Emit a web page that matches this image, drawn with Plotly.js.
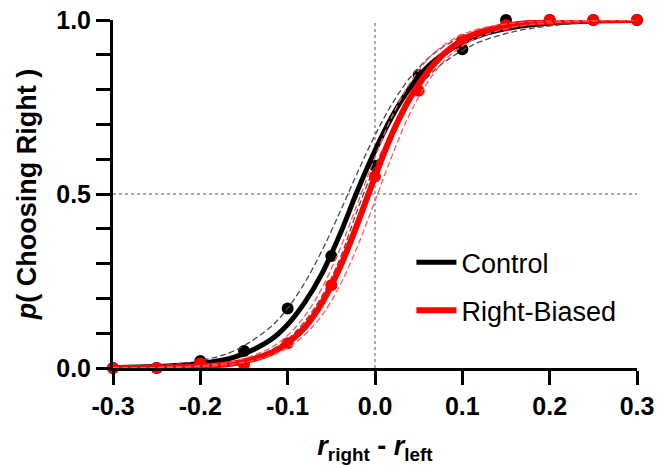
<!DOCTYPE html>
<html>
<head>
<meta charset="utf-8">
<script src="https://cdn.plot.ly/plotly-3.0.1.min.js"></script>
<style>html,body{margin:0;padding:0;background:#fff;}#chart{width:657px;height:465px;}</style>
</head>
<body>
<div id="chart"></div>
<script>
// Observed data points
const xData = [-0.3, -0.25, -0.2, -0.15, -0.1, -0.05, 0.0, 0.05, 0.1, 0.15, 0.2, 0.25, 0.3];
const controlData = [0.0, 0.0, 0.02, 0.049, 0.171, 0.322, 0.581, 0.842, 0.916, 1.0, 1.0, 1.0, 1.0];
const biasedData = [0.0, 0.0, 0.013, 0.011, 0.071, 0.238, 0.55, 0.797, 0.943, 0.985, 1.0, 1.0, 1.0];

// Fitted curves and confidence bands
const xFit = [-0.3, -0.25, -0.2, -0.16, -0.12, -0.1, -0.08, -0.06, -0.04, -0.02, 0.0, 0.02, 0.04, 0.06, 0.08, 0.1, 0.12, 0.16, 0.2, 0.25, 0.3];
const controlFit   = [0.001, 0.004, 0.013, 0.032, 0.08, 0.125, 0.19, 0.275, 0.385, 0.51, 0.625, 0.725, 0.805, 0.865, 0.905, 0.935, 0.956, 0.98, 0.991, 0.997, 0.999];
const controlUpper = [0.002, 0.007, 0.021, 0.051, 0.117, 0.172, 0.247, 0.341, 0.449, 0.562, 0.669, 0.761, 0.834, 0.888, 0.926, 0.952, 0.969, 0.987, 0.995, 0.998, 0.9995];
const controlLower = [0.0003, 0.0012, 0.006, 0.018, 0.05, 0.083, 0.135, 0.21, 0.315, 0.455, 0.58, 0.68, 0.765, 0.835, 0.88, 0.912, 0.937, 0.967, 0.983, 0.993, 0.997];
const biasedFit    = [0.0003, 0.001, 0.005, 0.014, 0.042, 0.072, 0.118, 0.19, 0.29, 0.415, 0.55, 0.675, 0.775, 0.85, 0.905, 0.942, 0.965, 0.987, 0.995, 0.999, 1.0];
const biasedUpper  = [0.0005, 0.0018, 0.0069, 0.02, 0.057, 0.094, 0.151, 0.233, 0.343, 0.473, 0.606, 0.726, 0.819, 0.886, 0.93, 0.958, 0.975, 0.9915, 0.997, 0.9992, 0.9998];
const biasedLower  = [0.0003, 0.0011, 0.0041, 0.012, 0.035, 0.058, 0.096, 0.154, 0.238, 0.35, 0.48, 0.613, 0.731, 0.82, 0.885, 0.925, 0.952, 0.98, 0.992, 0.997, 0.999];

const seriesNames = ['Control', 'Right-Biased'];
const xTickVals = [-0.3, -0.2, -0.1, 0.0, 0.1, 0.2, 0.3];
const xTickText = ['-0.3', '-0.2', '-0.1', '0.0', '0.1', '0.2', '0.3'];
const yTickVals = [0.0, 0.5, 1.0];
const yTickText = ['0.0', '0.5', '1.0'];
const refX = 0.0;
const refY = 0.5;

const FONT = 'Arial, "Liberation Sans", Helvetica, sans-serif';
const BLACK = '#000000';
const RED = '#ff0000';
const BAND_BLACK = '#4a4a4a';
const BAND_RED = '#ff5a5a';

const traces = [
  {x: xFit, y: controlFit, mode: 'lines', line: {color: BLACK, width: 5, shape: 'spline', smoothing: 1}, name: seriesNames[0], legendgroup: 'c', showlegend: true, cliponaxis: false, hoverinfo: 'skip'},
  {x: xData, y: controlData, mode: 'markers', marker: {color: BLACK, size: 12}, showlegend: false, cliponaxis: false},
  {x: xFit, y: controlUpper, mode: 'lines', line: {color: BAND_BLACK, width: 1.3, dash: '6px,3px', shape: 'spline'}, showlegend: false, cliponaxis: false},
  {x: xFit, y: controlLower, mode: 'lines', line: {color: BAND_BLACK, width: 1.3, dash: '6px,3px', shape: 'spline'}, showlegend: false, cliponaxis: false},
  {x: xFit, y: biasedFit, mode: 'lines', line: {color: RED, width: 6, shape: 'spline', smoothing: 1}, name: seriesNames[1], legendgroup: 'r', showlegend: true, cliponaxis: false},
  {x: xData, y: biasedData, mode: 'markers', marker: {color: RED, size: 12}, showlegend: false, cliponaxis: false},
  {x: xFit, y: biasedUpper, mode: 'lines', line: {color: BAND_RED, width: 1.3, dash: '6px,3px', shape: 'spline'}, showlegend: false, cliponaxis: false},
  {x: xFit, y: biasedLower, mode: 'lines', line: {color: BAND_RED, width: 1.3, dash: '6px,3px', shape: 'spline'}, showlegend: false, cliponaxis: false}
];

const layout = {
  width: 657, height: 465,
  margin: {l: 113, r: 20, t: 20, b: 97},
  paper_bgcolor: '#fff', plot_bgcolor: '#fff',
  font: {family: FONT, color: '#000'},
  showlegend: true,
  legend: {
    x: 0.5695, y: 0.373, xanchor: 'left', yanchor: 'top',
    font: {family: FONT, size: 27, color: '#000'},
    traceorder: 'grouped', tracegroupgap: 10,
    bgcolor: 'rgba(0,0,0,0)', borderwidth: 0, itemwidth: 40
  },
  xaxis: {
    range: [-0.3, 0.3], showgrid: false, zeroline: false,
    showline: true, linecolor: '#000', linewidth: 3,
    ticks: 'outside', ticklen: 14, tickwidth: 3, tickcolor: '#000',
    tickmode: 'array', tickvals: xTickVals, ticktext: xTickText,
    tickfont: {family: FONT, size: 25, color: '#000', weight: 'bold'},
    title: {text: '<i>r</i><sub>right</sub> - <i>r</i><sub>left</sub>', font: {family: FONT, size: 27, color: '#000', weight: 'bold'}, standoff: 18},
    automargin: false
  },
  yaxis: {
    range: [0, 1], showgrid: false, zeroline: false,
    showline: true, linecolor: '#000', linewidth: 3,
    ticks: 'outside', ticklen: 14, tickwidth: 3, tickcolor: '#000',
    tickmode: 'array', tickvals: yTickVals, ticktext: yTickText,
    minor: {dtick: 0.1, ticks: 'outside', ticklen: 14, tickwidth: 3, tickcolor: '#000', showgrid: false},
    tickfont: {family: FONT, size: 25, color: '#000', weight: 'bold'},
    title: {text: '<i>p</i>( Choosing Right )', font: {family: FONT, size: 27, color: '#000', weight: 'bold'}, standoff: 12},
    automargin: false
  },
  shapes: [
    {type: 'line', xref: 'x', yref: 'paper', x0: refX, x1: refX, y0: 0, y1: 1, line: {color: '#555', width: 1, dash: 'dot'}, layer: 'below'},
    {type: 'line', xref: 'paper', yref: 'y', x0: 0, x1: 1, y0: refY, y1: refY, line: {color: '#555', width: 1, dash: 'dot'}, layer: 'below'}
  ]
};

Plotly.newPlot('chart', traces, layout, {staticPlot: true, displayModeBar: false});
</script>
</body>
</html>
